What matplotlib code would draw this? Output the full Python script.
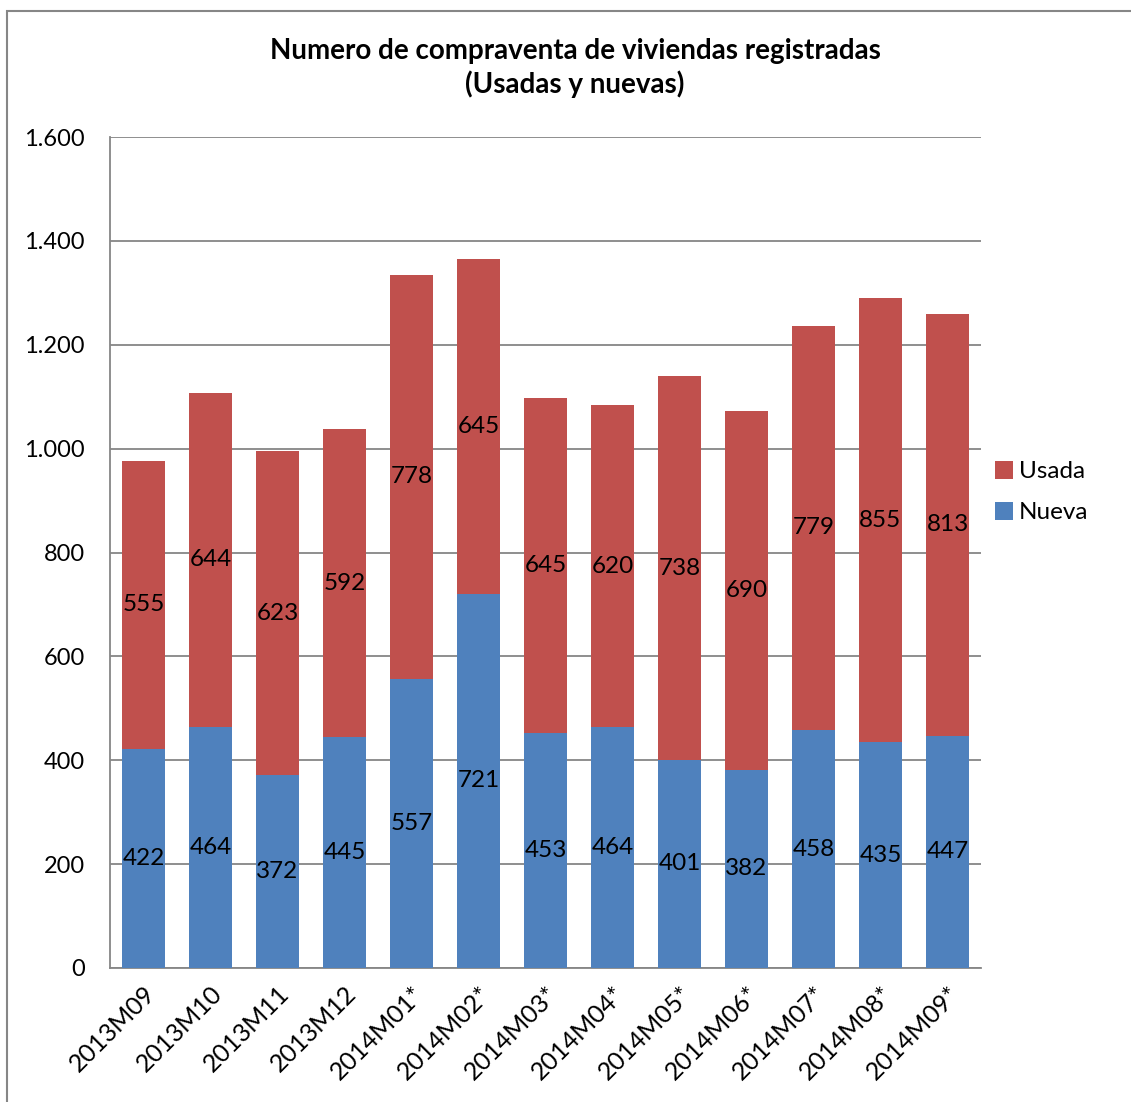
import matplotlib.pyplot as plt
import matplotlib.ticker as mticker
from matplotlib.patches import Rectangle

plt.rcParams['font.family'] = ['Lato', 'DejaVu Sans']

meses = ['2013M09', '2013M10', '2013M11', '2013M12', '2014M01*', '2014M02*',
         '2014M03*', '2014M04*', '2014M05*', '2014M06*', '2014M07*', '2014M08*', '2014M09*']
nueva = [422, 464, 372, 445, 557, 721, 453, 464, 401, 382, 458, 435, 447]
usada = [555, 644, 623, 592, 778, 645, 645, 620, 738, 690, 779, 855, 813]

azul = '#4F81BD'
rojo = '#C0504D'
gris = '#868686'

W, H = 1131, 1102
fig = plt.figure(figsize=(W / 100, H / 100), dpi=100)
# marco del grafico
fig.patches.append(Rectangle((7 / W, -0.1), 1.2, 1 - 11 / H + 0.1, transform=fig.transFigure,
                             fill=False, edgecolor=gris, linewidth=1.5))

ax = fig.add_axes([110 / W, 1 - 968 / H, (981 - 110) / W, (968 - 137) / H])
x = list(range(len(meses)))
b1 = ax.bar(x, nueva, width=0.64, color=azul, label='Nueva', zorder=3)
b2 = ax.bar(x, usada, width=0.64, bottom=nueva, color=rojo, label='Usada', zorder=3)
ax.bar_label(b1, label_type='center', fontsize=17.5, zorder=4)
ax.bar_label(b2, label_type='center', fontsize=17.5, zorder=4)

ax.set_xlim(-0.5, len(meses) - 0.5)
ax.set_ylim(0, 1600)
ax.yaxis.set_major_locator(mticker.MultipleLocator(200))
ax.yaxis.set_major_formatter(mticker.FuncFormatter(lambda v, p: f'{int(v):,}'.replace(',', '.')))
ax.grid(axis='y', color=gris, linewidth=1.3, zorder=0)
ax.set_xticks(x)
ax.set_xticklabels(meses, rotation=45, ha='right', rotation_mode='anchor', fontsize=18)
ax.tick_params(axis='y', labelsize=17, length=0, pad=18)
ax.tick_params(axis='x', length=0, pad=10)
for s in ['top', 'right']:
    ax.spines[s].set_visible(False)
for s in ['left', 'bottom']:
    ax.spines[s].set_color(gris)
    ax.spines[s].set_linewidth(1.3)

fig.text(575 / W, 1 - 68 / H, 'Numero de compraventa de viviendas registradas\n(Usadas y nuevas)',
         ha='center', va='center', fontsize=20, fontweight='bold', linespacing=1.3)

handles, labels = ax.get_legend_handles_labels()
fig.legend(handles[::-1], labels[::-1], loc='center left', bbox_to_anchor=(973 / W, 1 - 492 / H),
           frameon=False, fontsize=17.5, handlelength=0.75, handleheight=0.75, handletextpad=0.25,
           labelspacing=0.8)

fig.savefig('out.png', dpi=100)
